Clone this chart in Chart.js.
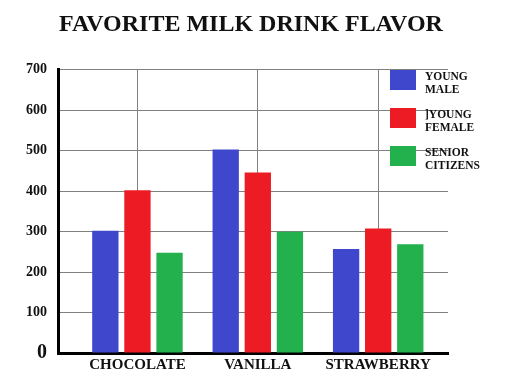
<!DOCTYPE html>
<html>
<head>
<meta charset="utf-8">
<script src="https://cdn.jsdelivr.net/npm/chart.js@4.4.1/dist/chart.umd.min.js"></script>
<style>
  body { margin: 0; background: #fff; }
  #wrap { position: relative; width: 509px; height: 379px; }
  #legend { position: absolute; left: 390px; top: 70px; font: bold 11.5px "Liberation Serif", serif; color: #111; }
  .item { display: flex; height: 38px; }
  .box { width: 26px; height: 20px; margin-right: 9px; }
  .txt { line-height: 13px; }
</style>
</head>
<body>
<div id="wrap">
  <canvas id="milkChart"></canvas>
  <div id="legend"></div>
</div>
<script>
// chart values
const flavors = ['CHOCOLATE', 'VANILLA', 'STRAWBERRY']
const youngMale = [302, 503, 257]
const youngFemale = [402, 446, 308]
const seniorCitizens = [248, 300, 269]
const seriesNames = [['YOUNG', 'MALE'], [']YOUNG', 'FEMALE'], ['SENIOR', 'CITIZENS']]
const seriesColors = ['#3f48cc', '#ed1c24', '#22b14c']

const serif = 'Liberation Serif'
const canvas = document.getElementById('milkChart')

// builds the html legend from the chart datasets
const htmlLegend = {
    id: 'htmlLegend',
    afterUpdate(chart) {
        const box = document.getElementById('legend')
        box.innerHTML = ''
        chart.data.datasets.forEach((ds) => {
            const item = document.createElement('div')
            item.className = 'item'
            const sw = document.createElement('div')
            sw.className = 'box'
            sw.style.background = ds.backgroundColor
            const txt = document.createElement('div')
            txt.className = 'txt'
            txt.innerHTML = ds.label.join('<br>')
            item.appendChild(sw)
            item.appendChild(txt)
            box.appendChild(item)
        })
    }
}

const milkChart = new Chart(canvas, {
    type: 'bar',
    data: {
        labels: flavors,
        datasets: [youngMale, youngFemale, seniorCitizens].map((vals, i) => ({
            label: seriesNames[i],
            data: vals,
            backgroundColor: seriesColors[i],
            categoryPercentage: 0.8,
            barPercentage: 0.82
        }))
    },
    options: {
        responsive: true,
        maintainAspectRatio: false,
        animation: false,
        layout: { padding: { top: 10, right: 7, bottom: 0, left: 0 } },
        plugins: {
            legend: { display: false },
            tooltip: { enabled: false },
            title: {
                display: true,
                text: 'FAVORITE MILK DRINK FLAVOR',
                color: '#111',
                font: { family: serif, size: 24, weight: 'bold' },
                padding: { top: 0, bottom: 31 }
            }
        },
        scales: {
            x: {
                grid: { offset: false, color: '#808080', drawTicks: false },
                border: { color: '#000', width: 3 },
                ticks: { color: '#111', padding: 3, font: { family: serif, size: 15, weight: 'bold' } },
                afterFit: (s) => { s.height = 26 },
                // spread the categories like the reference (first group sits right of the axis)
                afterBuildTicks: (s) => { s._startValue = -0.66; s._valueRange = 3.24 }
            },
            y: {
                min: 0,
                max: 700,
                grid: { color: '#808080', drawTicks: false },
                border: { color: '#000', width: 3 },
                ticks: {
                    stepSize: 100,
                    color: '#111',
                    padding: 11,
                    font: (c) => ({ family: serif, weight: 'bold', size: (c.tick && c.tick.value === 0) ? 20 : 14 })
                },
                afterFit: (s) => { s.width = 58 }
            },
            // empty right axis: keeps room for the legend without pushing the title left
            yRight: {
                position: 'right',
                grid: { display: false },
                border: { display: false },
                ticks: { display: false },
                afterFit: (s) => { s.width = 54 }
            }
        }
    },
    plugins: [htmlLegend]
})
</script>
</body>
</html>
